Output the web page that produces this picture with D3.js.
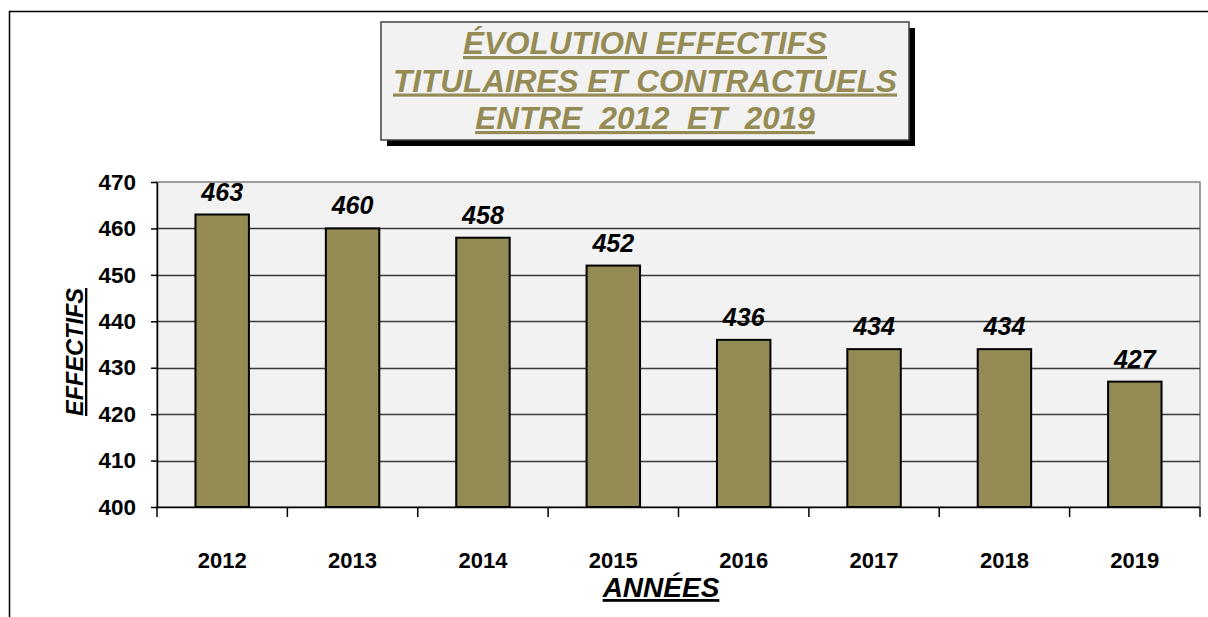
<!DOCTYPE html>
<html>
<head>
<meta charset="utf-8">
<script src="https://cdn.jsdelivr.net/npm/d3@7"></script>
<style>
  body { margin: 0; background: #fff; }
  text { font-family: "Liberation Sans", Arial, sans-serif; }
</style>
</head>
<body>
<svg id="chart" width="1208" height="617"></svg>
<script>
// données
var annees = ["2012", "2013", "2014", "2015", "2016", "2017", "2018", "2019"];
var effectifs = [463, 460, 458, 452, 436, 434, 434, 427];
var graduations = [400, 410, 420, 430, 440, 450, 460, 470];
var titre = ["ÉVOLUTION EFFECTIFS", "TITULAIRES ET CONTRACTUELS", "ENTRE  2012  ET  2019"];

var svg = d3.select("#chart");

// cadre extérieur (haut + gauche)
svg.append("path")
  .attr("d", "M9.5,617 V11.5 H1208")
  .attr("fill", "none")
  .attr("stroke", "#000")
  .attr("stroke-width", 1.5);

// zone de tracé (attention : "top" est réservé côté window)
var plotL = 157, plotR = 1200, plotT = 182, plotB = 507;

var x = d3.scaleBand()
  .domain(annees)
  .range([plotL, plotR]);

var y = d3.scaleLinear()
  .domain([400, 470])
  .range([plotB, plotT]);

// fond de la zone de tracé
svg.append("rect")
  .attr("x", plotL).attr("y", plotT)
  .attr("width", plotR - plotL).attr("height", plotB - plotT)
  .attr("fill", "#f2f2f2")
  .attr("stroke", "#808080")
  .attr("stroke-width", 1.5);

// quadrillage horizontal
svg.append("g")
  .selectAll("line")
  .data(graduations.slice(1, -1))
  .join("line")
  .attr("x1", plotL).attr("x2", plotR)
  .attr("y1", function (d) { return Math.round(y(d)) + 0.5; })
  .attr("y2", function (d) { return Math.round(y(d)) + 0.5; })
  .attr("stroke", "#3a3a3a")
  .attr("stroke-width", 1.3);

// axe Y
var axeY = svg.append("g")
  .attr("transform", "translate(" + plotL + ",0)")
  .call(d3.axisLeft(y).tickValues(graduations).tickSize(6).tickPadding(15).tickSizeOuter(0));
axeY.select(".domain").attr("stroke", "#000").attr("stroke-width", 1.5);
axeY.selectAll(".tick line").attr("stroke", "#000").attr("stroke-width", 1.5);
axeY.selectAll("text")
  .attr("font-family", "Liberation Sans, Arial, sans-serif")
  .attr("font-size", 22.5)
  .attr("font-weight", "bold")
  .attr("fill", "#000");

// barres
svg.append("g")
  .selectAll("rect")
  .data(effectifs)
  .join("rect")
  .attr("x", function (d, i) { return x(annees[i]) + x.bandwidth() * 0.295; })
  .attr("width", x.bandwidth() * 0.41)
  .attr("y", function (d) { return y(d); })
  .attr("height", function (d) { return y(400) - y(d); })
  .attr("fill", "#948a54")
  .attr("stroke", "#000")
  .attr("stroke-width", 2);

// étiquettes de valeur
svg.append("g")
  .selectAll("text")
  .data(effectifs)
  .join("text")
  .attr("x", function (d, i) { return x(annees[i]) + x.bandwidth() / 2; })
  .attr("y", function (d) { return y(d) - 14; })
  .attr("text-anchor", "middle")
  .attr("font-size", 25)
  .attr("font-weight", "bold")
  .attr("font-style", "italic")
  .text(function (d) { return d; });

// axe X (repères aux limites des catégories)
svg.append("line")
  .attr("x1", plotL).attr("x2", plotR)
  .attr("y1", plotB + 0.5).attr("y2", plotB + 0.5)
  .attr("stroke", "#000").attr("stroke-width", 1.5);
svg.append("g")
  .selectAll("line")
  .data(annees.concat(["fin"]))
  .join("line")
  .attr("x1", function (d, i) { return i < annees.length ? x(d) : plotR; })
  .attr("x2", function (d, i) { return i < annees.length ? x(d) : plotR; })
  .attr("y1", plotB).attr("y2", plotB + 10)
  .attr("stroke", "#000").attr("stroke-width", 1.5);
svg.append("g")
  .selectAll("text")
  .data(annees)
  .join("text")
  .attr("x", function (d) { return x(d) + x.bandwidth() / 2; })
  .attr("y", 568)
  .attr("text-anchor", "middle")
  .attr("font-size", 22)
  .attr("font-weight", "bold")
  .text(function (d) { return d; });

// titres des axes
svg.append("text")
  .attr("x", 661).attr("y", 597)
  .attr("text-anchor", "middle")
  .attr("font-size", 28)
  .attr("font-weight", "bold")
  .attr("font-style", "italic")
  .style("text-decoration", "underline")
  .text("ANNÉES");

svg.append("text")
  .attr("transform", "translate(83,352) rotate(-90)")
  .attr("text-anchor", "middle")
  .attr("font-size", 23.5)
  .attr("font-weight", "bold")
  .attr("font-style", "italic")
  .style("text-decoration", "underline")
  .text("EFFECTIFS");

// encadré du titre avec ombre
var bx = 381, by = 22, bw = 528, bh = 118;
svg.append("rect")
  .attr("x", bx + 6).attr("y", by + 6)
  .attr("width", bw).attr("height", bh)
  .attr("fill", "#000");
svg.append("rect")
  .attr("x", bx).attr("y", by)
  .attr("width", bw).attr("height", bh)
  .attr("fill", "#f2f2f2")
  .attr("stroke", "#404040")
  .attr("stroke-width", 1.5);
svg.append("g")
  .selectAll("text")
  .data(titre)
  .join("text")
  .attr("x", bx + bw / 2)
  .attr("y", function (d, i) { return 54 + i * 37.5; })
  .attr("text-anchor", "middle")
  .attr("font-size", 31.5)
  .attr("font-weight", "bold")
  .attr("font-style", "italic")
  .attr("fill", "#958b55")
  .style("text-decoration", "underline")
  .style("white-space", "pre")
  .text(function (d) { return d; });
</script>
</body>
</html>
